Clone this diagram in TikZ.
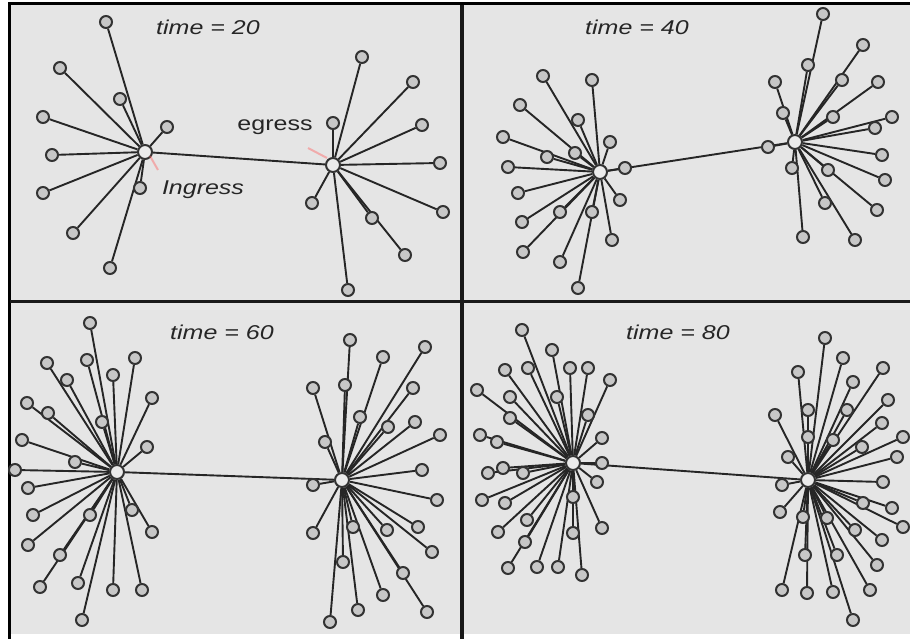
\documentclass[tikz,border=0pt]{standalone}
\usepackage{fontspec}
\setmainfont{Liberation Sans}
\pgfdeclarelayer{bg}
\pgfdeclarelayer{edges}
\pgfsetlayers{bg,edges,main}
\newcommand\mystar[3]{%
  \foreach \px/\py [count=\i] in {#3} {%
    \node[leaf] (#2\i) at (\px,\py) {};
    \begin{pgfonlayer}{edges}\draw[edge] (#1) -- (#2\i);\end{pgfonlayer}
  }}
\begin{document}
\begin{tikzpicture}[x=1pt,y=-1pt,
  leaf/.style={circle,draw=black!80,fill=black!22,line width=2pt,minimum size=12pt,inner sep=0pt},
  hub/.style={leaf,minimum size=14pt,fill=black!8},
  edge/.style={draw=black!85,line width=1.9pt},
  lbl/.style={font=\fontsize{20}{20}\selectfont,xscale=1.25,inner sep=0pt,text=black!85},
  frame/.style={draw=black,line width=3pt},
  pinkmark/.style={draw=red!60!white,opacity=0.45,line width=2pt}]
\useasboundingbox (0,0) rectangle (910,639);
\begin{pgfonlayer}{bg}
  \fill[white] (0,0) rectangle (910,639);
  \fill[black!10] (10,5) rectangle (910,634);
  \draw[frame] (9,3) -- (9,639);
  \draw[frame] (8,4) -- (910,4);
  \draw[draw=black!90,line width=4pt] (461.5,5) -- (461.5,639);
  \draw[draw=black!90,line width=3pt] (10,301) -- (910,301);
\end{pgfonlayer}
% ---------- panel time = 20
\node[lbl,font=\fontsize{20}{20}\selectfont\itshape] (t20) at (208,27) {time = 20};
\node[hub] (A) at (145,152) {};
\node[hub] (B) at (333,165) {};
\begin{pgfonlayer}{edges}\draw[edge] (A) -- (B);\end{pgfonlayer}
\mystar{A}{a}{106/22,60/68,120/99,43/117,167/127,52/155,43/193,73/233,110/268,140/188}
\mystar{B}{b}{362/57,413/82,333/123,422/125,440/163,443/212,312/203,372/218,405/255,348/290}
\node[lbl] (eg) at (275,127) {egress};
\node[lbl,font=\fontsize{20}{20}\selectfont\itshape] (ig) at (203,190) {Ingress};
\draw[pinkmark] (150,156) -- (158,170);
\draw[pinkmark] (308,148) -- (327,158);
% ---------- panel time = 40
\node[lbl,font=\fontsize{20}{20}\selectfont\itshape] (t40) at (637,27) {time = 40};
\node[hub] (C) at (600,172) {};
\node[hub] (D) at (795,142) {};
\begin{pgfonlayer}{edges}\draw[edge] (C) -- (D);\end{pgfonlayer}
\mystar{C}{c}{543/76,592/80,520/105,578/120,503/137,610/142,547/157,575/153,508/167,625/168,518/193,620/200,522/222,560/212,592/212,523/252,560/262,612/240,578/288}
\mystar{D}{d}{823/14,863/45,808/65,842/80,775/82,878/82,783/113,833/117,892/117,875/128,768/147,882/155,792/168,828/170,885/180,825/203,877/210,803/237,855/240}
% ---------- panel time = 60
\node[lbl,font=\fontsize{20}{20}\selectfont\itshape] (t60) at (222,332) {time = 60};
\node[hub] (E) at (117,472) {};
\node[hub] (F) at (342,480) {};
\begin{pgfonlayer}{edges}\draw[edge] (E) -- (F);\end{pgfonlayer}
\mystar{E}{e}{90/323,87/360,47/363,67/380,135/358,113/375,152/398,27/403,48/413,102/422,22/440,75/462,147/447,15/470,28/488,33/515,90/515,132/510,28/545,60/555,152/532,40/587,78/583,113/590,142/590,82/620}
\mystar{F}{f}{350/340,383/357,425/347,313/388,345/385,413/388,360/417,388/427,415/422,440/435,325/442,422/470,313/485,437/500,313/533,353/527,387/530,418/527,432/552,343/562,403/573,383/595,358/610,330/622,427/612}
% ---------- panel time = 80
\node[lbl,font=\fontsize{20}{20}\selectfont\itshape] (t80) at (678,332) {time = 80};
\node[hub] (G) at (573,463) {};
\node[hub] (H) at (808,480) {};
\begin{pgfonlayer}{edges}\draw[edge] (G) -- (H);\end{pgfonlayer}
\mystar{G}{g}{522/330,552/350,505/370,528/368,570/368,588/368,610/380,477/390,510/397,557/397,510/418,588/415,480/435,497/442,602/438,488/473,503/468,523/473,602/463,482/500,505/503,597/482,573/497,498/532,527/520,573/533,602/528,525/542,508/568,537/567,558/567,582/575}
\mystar{H}{h}{825/338,843/358,883/368,798/372,853/382,888/400,775/415,808/410,847/410,882/423,903/437,808/437,833/440,862/447,897/457,788/457,782/485,883/482,863/503,892/508,903/527,780/512,803/517,827/518,855/530,882/540,805/555,837/555,877/565,870/590,782/590,807/593,833/592,853/620}
\end{tikzpicture}
\end{document}
